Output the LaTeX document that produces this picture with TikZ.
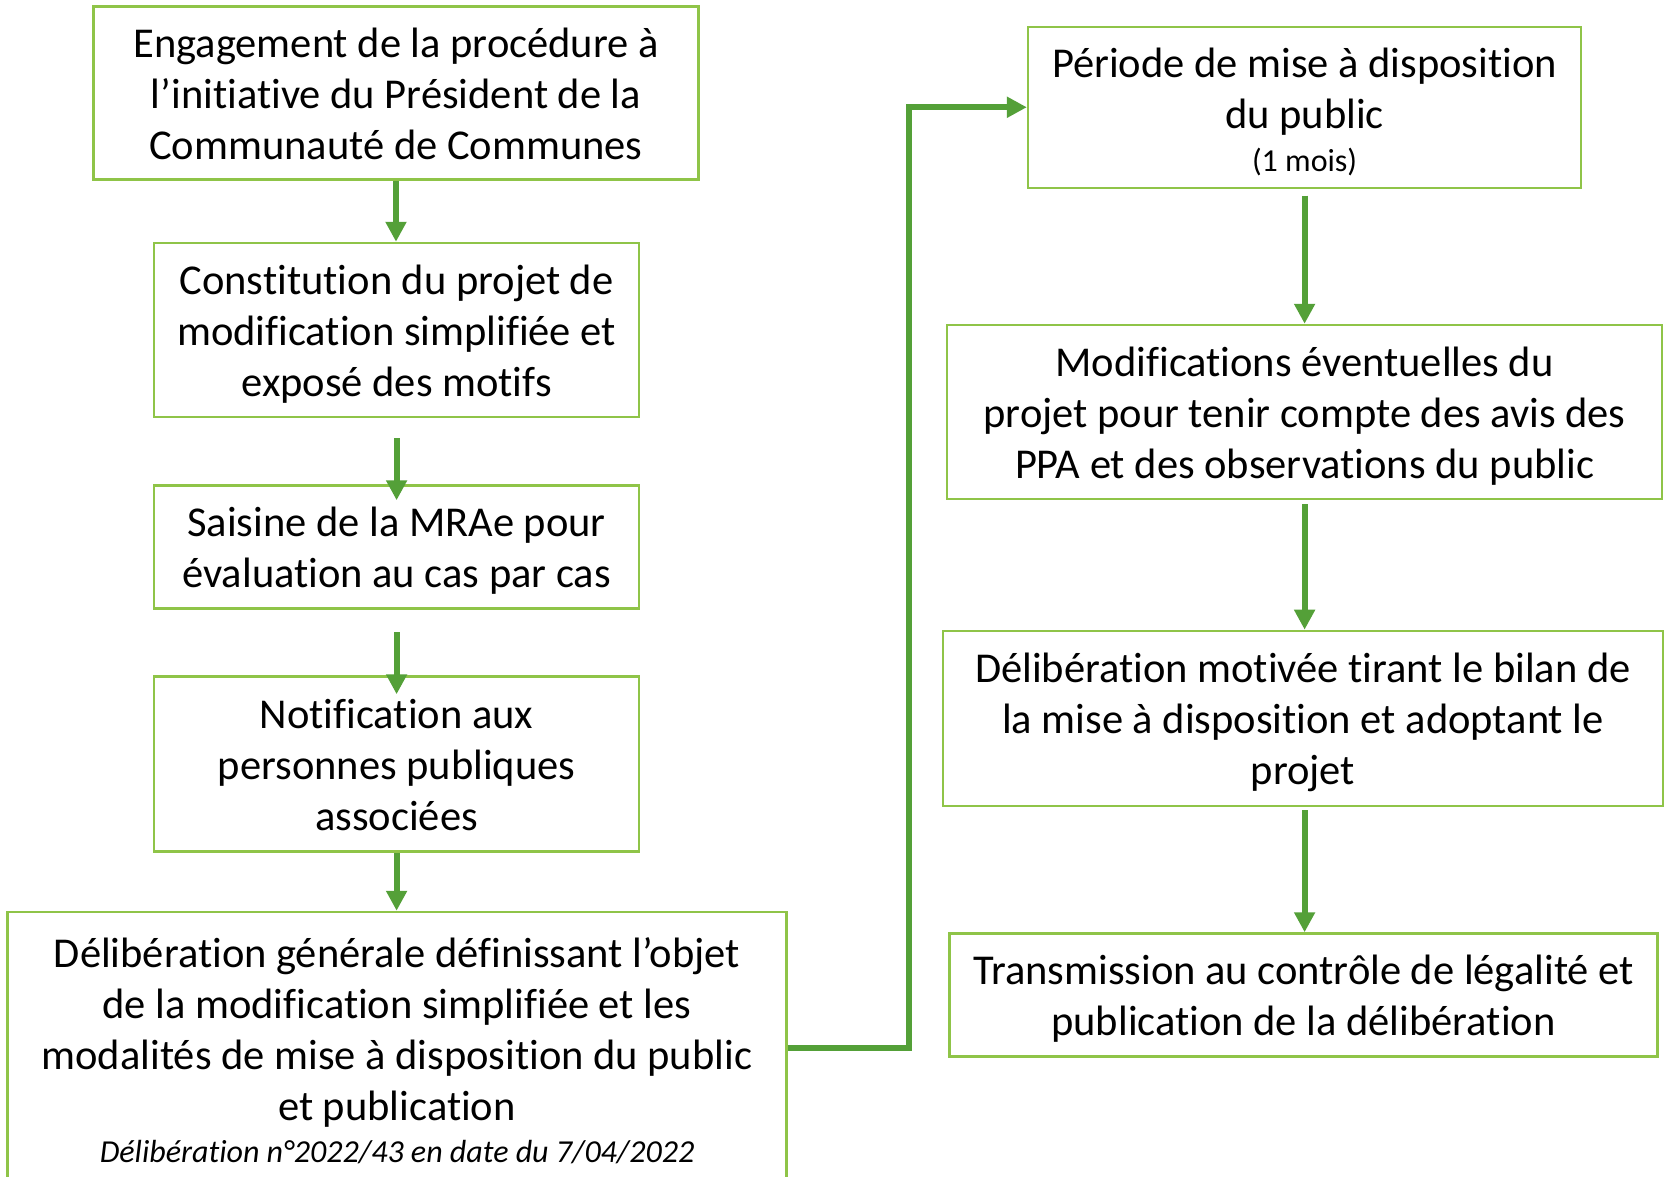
\documentclass[tikz,border=0pt]{standalone}
\usepackage{fontspec}
\setmainfont{Carlito}[Ligatures=NoCommon]
\usetikzlibrary{arrows.meta}
\definecolor{boxgreen}{RGB}{143,196,72}
\definecolor{arrgreen}{RGB}{84,160,56}
\tikzset{
  box/.style={draw=boxgreen, line width=2.5pt, fill=white, inner sep=0pt, align=center,
    font=\fontsize{42.5}{51}\selectfont},
  arr/.style={draw=arrgreen, line width=6pt, -{Triangle[width=20pt,length=20pt]}},
}
\newcommand{\smallfnt}{\fontsize{32}{38}\selectfont}
\newcommand{\fs}{\rule{0pt}{44.6pt}}
\newcommand{\ls}{\rule[-14.4pt]{0pt}{0pt}}
\begin{document}
\begin{tikzpicture}[x=1pt,y=-1pt]
\useasboundingbox (0,0) rectangle (1665,1176);
\clip (0,0) rectangle (1665,1176);
\fill[white] (0,0) rectangle (1665,1176);

\node[box, minimum width=605pt, minimum height=173pt] (b1) at (396,93)
  {\fs Engagement de la procédure à\\l’initiative du Président de la\\Communauté de Communes\ls};
\node[box, minimum width=485pt, minimum height=174pt] (b2) at (396.6,330)
  {\fs Constitution du projet de\\modification simplifiée et\\exposé des motifs\ls};
\node[box, minimum width=485pt, minimum height=123pt] (b3) at (396.6,547)
  {\fs Saisine de la MRAe pour\\évaluation au cas par cas\ls};
\node[box, minimum width=485pt, minimum height=175pt] (b4) at (396.6,764)
  {\fs Notification aux\\personnes publiques\\associées\ls};
\node[box, minimum width=779pt, minimum height=272pt] (b5) at (397,1048)
  {\fs Délibération générale définissant l’objet\\de la modification simplifiée et les\\modalités de mise à disposition du public\\et publication\\[-8.9pt]{\smallfnt\itshape Délibération n°2022/43 en date du 7/04/2022\rule[-10.1pt]{0pt}{0pt}}};

\node[box, minimum width=553pt, minimum height=161pt] (b6) at (1304.6,107.25)
  {\fs Période de mise à disposition\\du public\\[-8.7pt]{\smallfnt (1 mois)\rule[-10.3pt]{0pt}{0pt}}};
\node[box, minimum width=715pt, minimum height=174pt] (b7) at (1304.6,412)
  {\fs Modifications éventuelles du\\projet pour tenir compte des avis des\\PPA et des observations du public\ls};
\node[box, minimum width=720pt, minimum height=175pt] (b8) at (1303,718.4)
  {\fs Délibération motivée tirant le bilan de\\la mise à disposition et adoptant le\\projet\ls};
\node[box, minimum width=708pt, minimum height=123pt] (b9) at (1303.5,995)
  {\fs Transmission au contrôle de légalité et\\publication de la délibération\ls};

\draw[arr] (b1.south) -- (b1.south |- b2.north);
\draw[arr] ([yshift=-20pt]b2.south) -- ([yshift=-16pt]b3.north);
\draw[arr] ([yshift=-22.5pt]b3.south) -- ([yshift=-19pt]b4.north);
\draw[arr] (b4.south) -- (b4.south |- b5.north);

\draw[arr] ([yshift=-6.5pt]b6.south) -- (b6.south |- b7.north);
\draw[arr] ([yshift=-4pt]b7.south) -- (b7.south |- b8.north);
\draw[arr] (b7.south |- b8.south) ++(0,3) -- (b7.south |- b9.north);

\draw[arr] (b5.east) -- ++(121,0) |- (b6.west);
\end{tikzpicture}
\end{document}
